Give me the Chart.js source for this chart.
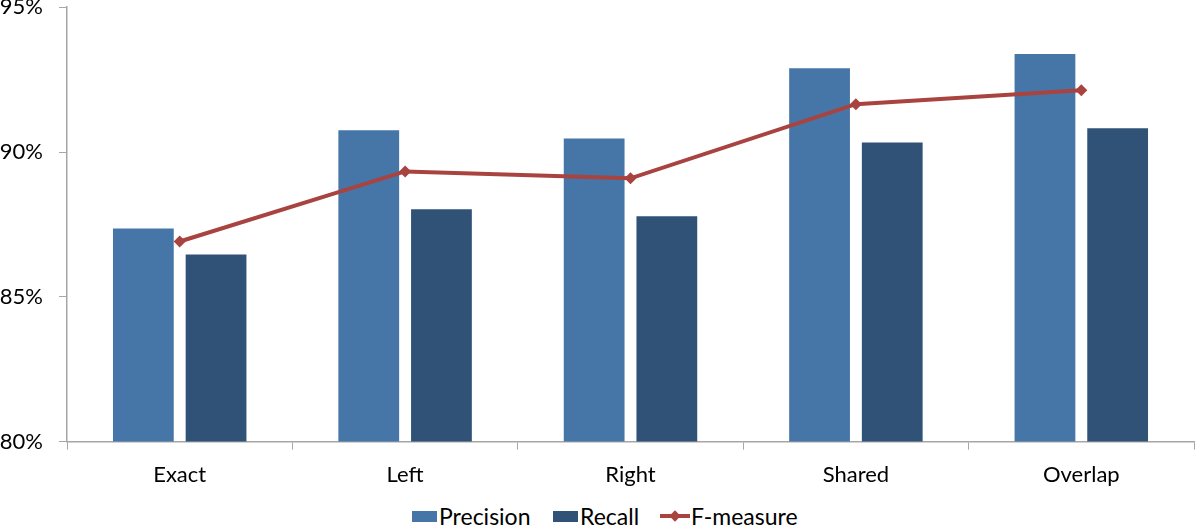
<!DOCTYPE html>
<html>
<head>
<meta charset="utf-8">
<script src="https://cdn.jsdelivr.net/npm/chart.js@4.4.1/dist/chart.umd.min.js"></script>
<style>
  html, body { margin: 0; padding: 0; background: #fff; }
  #wrap { position: relative; width: 1200px; height: 527px; overflow: hidden; font-family: Lato, sans-serif; }
  #plot { position: absolute; left: 0; top: -22px; width: 1200px; height: 522px; }
  .legend { position: absolute; top: 504px; height: 24px; display: flex; align-items: center; font-size: 23px; color: #000; }
  .box { width: 25px; height: 11px; margin-right: 2px; }
  .fm { position: relative; width: 30px; height: 12px; margin-right: 1px; }
  .fm .ln { position: absolute; left: 0; top: 4px; width: 30px; height: 4px; background: #A9433F; }
  .fm .dm { position: absolute; left: 11px; top: 2px; width: 8px; height: 8px; background: #A9433F; transform: rotate(45deg); }
</style>
</head>
<body>
<div id="wrap">
  <div id="plot"><canvas id="chart"></canvas></div>
  <div class="legend" style="left:412px;"><div class="box" style="background:#4675A7;"></div>Precision</div>
  <div class="legend" style="left:553px;"><div class="box" style="background:#305276;"></div>Recall</div>
  <div class="legend" style="left:660px;"><div class="fm"><div class="ln"></div><div class="dm"></div></div>F-measure</div>
</div>
<script>
'use strict';

const categories = ['Exact', 'Left', 'Right', 'Shared', 'Overlap'];
const precision = [87.36, 90.75, 90.47, 92.89, 93.38];
const recall = [86.46, 88.02, 87.78, 90.33, 90.82];
const fMeasure = [86.91, 89.33, 89.09, 91.65, 92.13];

const COLORS = {
  precision: '#4675A7',
  recall: '#305276',
  fmeasure: '#A9433F',
  axis: '#a6a6a6',
};

const tickFont = { family: 'Lato', size: 22 };

new Chart(document.getElementById('chart'), {
  type: 'bar',
  data: {
    labels: categories,
    datasets: [
      {
        type: 'line',
        label: 'F-measure',
        data: fMeasure,
        borderColor: COLORS.fmeasure,
        backgroundColor: COLORS.fmeasure,
        borderWidth: 4,
        pointStyle: 'rectRot',
        pointRadius: 6,
        pointBorderWidth: 0,
        tension: 0,
        order: 0,
      },
      {
        label: 'Precision',
        data: precision,
        backgroundColor: COLORS.precision,
        categoryPercentage: 0.645,
        barPercentage: 0.836,
        order: 1,
      },
      {
        label: 'Recall',
        data: recall,
        backgroundColor: COLORS.recall,
        categoryPercentage: 0.645,
        barPercentage: 0.836,
        order: 1,
      },
    ],
  },
  options: {
    responsive: true,
    maintainAspectRatio: false,
    animation: false,
    layout: { padding: { top: 0, right: 1, bottom: 0, left: 0 } },
    plugins: {
      legend: { display: false },
      tooltip: { enabled: false },
    },
    scales: {
      x: {
        offset: true,
        grid: {
          offset: true,
          drawOnChartArea: false,
          tickLength: 8,
          color: COLORS.axis,
          tickColor: COLORS.axis,
        },
        border: { color: COLORS.axis, width: 1.5 },
        ticks: { color: '#000', font: tickFont, padding: 12 },
      },
      y: {
        min: 80,
        max: 95,
        afterFit: (scale) => { scale.width = 67; },
        grid: {
          drawOnChartArea: false,
          tickLength: 8,
          color: COLORS.axis,
          tickColor: COLORS.axis,
        },
        border: { color: COLORS.axis, width: 1.5 },
        ticks: {
          stepSize: 5,
          color: '#000',
          font: tickFont,
          padding: 16,
          callback: (v) => v + '%',
        },
      },
    },
  },
});
</script>
</body>
</html>
